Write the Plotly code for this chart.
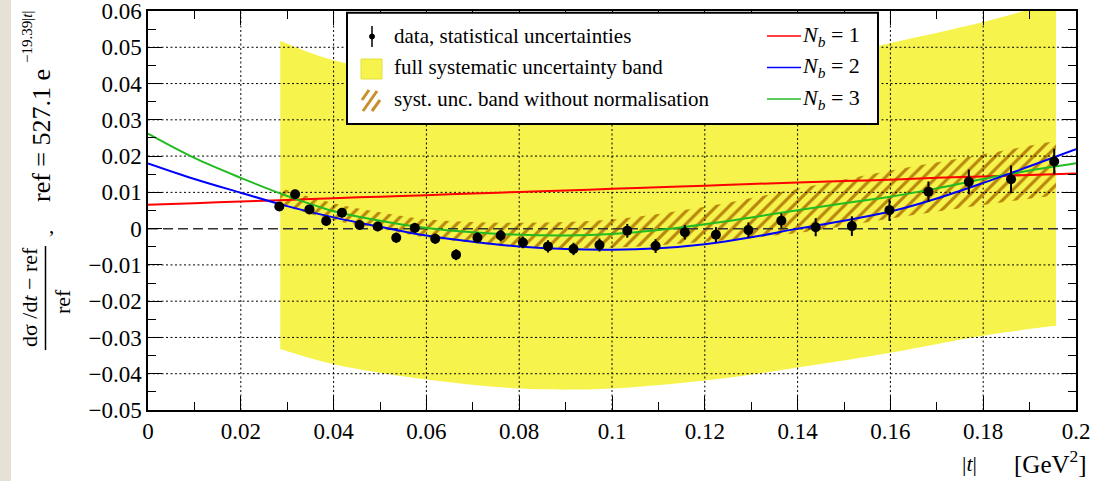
import plotly.graph_objects as go

# ---------------- measured ratio points ----------------
t_data = [0.0283, 0.0317, 0.0348, 0.0384, 0.0418, 0.0456, 0.0495, 0.0535, 0.0575, 0.0619,
          0.0664, 0.0710, 0.0760, 0.0808, 0.0862, 0.0917, 0.0973, 0.1033, 0.1094, 0.1157,
          0.1224, 0.1294, 0.1365, 0.1439, 0.1517, 0.1598, 0.1682, 0.1769, 0.1860, 0.1953]
ratio_data = [0.0061, 0.0095, 0.0053, 0.0021, 0.0044, 0.0010, 0.0006, -0.0025, 0.0002, -0.0028,
              -0.0072, -0.0025, -0.0019, -0.0038, -0.0049, -0.0056, -0.0045, -0.0006, -0.0048, -0.0010,
              -0.0017, -0.0004, 0.0022, 0.0004, 0.0007, 0.0051, 0.0102, 0.0129, 0.0136, 0.0185]
stat_err = [0.0012, 0.0012, 0.0012, 0.0012, 0.0013, 0.0013, 0.0013, 0.0014, 0.0014, 0.0014,
            0.0015, 0.0015, 0.0016, 0.0016, 0.0017, 0.0017, 0.0018, 0.0019, 0.0019, 0.0020,
            0.0021, 0.0021, 0.0020, 0.0025, 0.0027, 0.0030, 0.0028, 0.0034, 0.0038, 0.0035]

# ---------------- fitted curves, sampled along |t| ----------------
t_fit = [0.00, 0.01, 0.02, 0.03, 0.04, 0.05, 0.06, 0.07, 0.08, 0.09, 0.10,
         0.11, 0.12, 0.13, 0.14, 0.15, 0.16, 0.17, 0.18, 0.19, 0.20]
fit_nb1 = [0.0066, 0.0070, 0.0075, 0.0079, 0.0084, 0.0088, 0.0092, 0.0097, 0.0101, 0.0105, 0.0110,
           0.0114, 0.0118, 0.0123, 0.0127, 0.0131, 0.0135, 0.0140, 0.0144, 0.0148, 0.0152]
fit_nb2 = [0.0180, 0.0137, 0.0099, 0.0062, 0.0031, 0.0005, -0.0019, -0.0036, -0.0049, -0.0056, -0.0058,
           -0.0054, -0.0043, -0.0024, 0.0000, 0.0022, 0.0047, 0.0083, 0.0126, 0.0172, 0.0219]
fit_nb3 = [0.0262, 0.0195, 0.0140, 0.0090, 0.0048, 0.0022, 0.0002, -0.0010, -0.0017, -0.0019, -0.0015,
           -0.0004, 0.0012, 0.0031, 0.0051, 0.0070, 0.0088, 0.0111, 0.0137, 0.0160, 0.0180]

# ---------------- systematic uncertainty bands ----------------
t_sys = [0.0285, 0.04, 0.06, 0.08, 0.09, 0.10, 0.12, 0.14, 0.16, 0.18, 0.1957]
sys_full_lo = [-0.0332, -0.0374, -0.0416, -0.0441, -0.0444, -0.0441, -0.0419, -0.0383, -0.0342, -0.0295, -0.0268]
sys_full_hi = [0.0518, 0.0464, 0.0420, 0.0400, 0.0400, 0.0403, 0.0422, 0.0455, 0.0512, 0.0570, 0.0625]

t_sysn = [0.0285, 0.04, 0.05, 0.06, 0.08, 0.10, 0.12, 0.14, 0.16, 0.18, 0.1957]
sys_nonorm_lo = [0.0066, 0.0023, 0.0000, -0.0024, -0.0050, -0.0052, -0.0036, -0.0012, 0.0028, 0.0065, 0.0092]
sys_nonorm_hi = [0.0112, 0.0070, 0.0045, 0.0026, 0.0016, 0.0025, 0.0060, 0.0110, 0.0160, 0.0205, 0.0242]

x_grid = [0.02, 0.04, 0.06, 0.08, 0.10, 0.12, 0.14, 0.16, 0.18]
y_grid = [-0.04, -0.03, -0.02, -0.01, 0.01, 0.02, 0.03, 0.04, 0.05]

# ---------------- page geometry ----------------
W_PX, H_PX = 1095, 481
M_L, M_R, M_T, M_B = 148, 19, 11, 71
PW, PH = W_PX - M_L - M_R, H_PX - M_T - M_B

def px(x):
    return (x - M_L) / PW

def py(y):
    return (H_PX - M_B - y) / PH

SERIF = "Liberation Serif, Times New Roman, serif"
YELLOW = "#f6f44c"
HATCH = "#b8860b"

fig = go.Figure()

# full systematic band (yellow)
fig.add_trace(go.Scatter(x=t_sys, y=sys_full_lo, mode="lines", line=dict(width=0, shape="spline"),
                         showlegend=False, hoverinfo="skip"))
fig.add_trace(go.Scatter(x=t_sys, y=sys_full_hi, mode="lines", line=dict(width=0, shape="spline"),
                         fill="tonexty", fillcolor=YELLOW, showlegend=False, hoverinfo="skip"))

# systematic band without normalisation (hatched)
fig.add_trace(go.Scatter(x=t_sysn, y=sys_nonorm_lo, mode="lines", line=dict(width=0, shape="spline"),
                         showlegend=False, hoverinfo="skip"))
fig.add_trace(go.Scatter(x=t_sysn, y=sys_nonorm_hi, mode="lines", line=dict(width=0, shape="spline"),
                         fill="tonexty", fillcolor="rgba(0,0,0,0)",
                         fillpattern=dict(shape="/", fgcolor=HATCH, bgcolor="rgba(0,0,0,0)",
                                          size=9, solidity=0.35, fillmode="replace"),
                         showlegend=False, hoverinfo="skip"))

# dotted grid drawn over the bands
gx, gy = [], []
for v in x_grid:
    gx += [v, v, None]
    gy += [-0.05, 0.06, None]
for v in y_grid:
    gx += [0, 0.2, None]
    gy += [v, v, None]
fig.add_trace(go.Scatter(x=gx, y=gy, mode="lines", line=dict(color="black", width=1, dash="2px,2.5px"),
                         showlegend=False, hoverinfo="skip"))
# dashed zero line
fig.add_trace(go.Scatter(x=[0, 0.2], y=[0, 0], mode="lines",
                         line=dict(color="#333333", width=1.5, dash="10px,5px"),
                         showlegend=False, hoverinfo="skip"))

# fitted curves
for vals, col in [(fit_nb1, "#ff0000"), (fit_nb3, "#22bb22"), (fit_nb2, "#0000ff")]:
    fig.add_trace(go.Scatter(x=t_fit, y=vals, mode="lines", line=dict(color=col, width=2, shape="spline"),
                             showlegend=False, hoverinfo="skip"))

# data with statistical errors
fig.add_trace(go.Scatter(x=t_data, y=ratio_data, mode="markers",
                         marker=dict(color="black", size=10, symbol="circle"),
                         error_y=dict(type="data", array=stat_err, color="black", thickness=2, width=0),
                         showlegend=False))

shapes = []
annotations = []

def note(text, x, y, size, xanchor="center", yanchor="middle", angle=0):
    annotations.append(dict(text=text, xref="paper", yref="paper", x=px(x), y=py(y), xanchor=xanchor,
                            yanchor=yanchor, textangle=angle, showarrow=False,
                            font=dict(family=SERIF, size=size, color="black")))

# beige strip at left edge of page
shapes.append(dict(type="rect", xref="paper", yref="paper", x0=px(0), x1=px(11), y0=py(H_PX), y1=py(0),
                   fillcolor="#e6e0d6", line=dict(width=0), layer="below"))

# legend box
shapes.append(dict(type="rect", xref="paper", yref="paper", x0=px(347), x1=px(878), y0=py(124), y1=py(12.7),
                   fillcolor="white", line=dict(color="black", width=2), layer="above"))
# legend icons
shapes.append(dict(type="line", xref="paper", yref="paper", x0=px(372), x1=px(372), y0=py(47), y1=py(26),
                   line=dict(color="black", width=1.5), layer="above"))
shapes.append(dict(type="circle", xref="paper", yref="paper", x0=px(369.5), x1=px(374.5), y0=py(39), y1=py(34),
                   fillcolor="black", line=dict(color="black", width=1), layer="above"))
shapes.append(dict(type="rect", xref="paper", yref="paper", x0=px(361), x1=px(382), y0=py(79), y1=py(59),
                   fillcolor=YELLOW, line=dict(color="#e2e040", width=1), layer="above"))
for (xa, ya, xb, yb) in [(362, 100, 369, 90), (363, 111, 377, 91), (372, 111, 380, 100)]:
    shapes.append(dict(type="line", xref="paper", yref="paper", x0=px(xa), x1=px(xb), y0=py(ya), y1=py(yb),
                       line=dict(color="#c8902a", width=3), layer="above"))
legend_left = ["data, statistical uncertainties", "full systematic uncertainty band",
               "syst. unc. band without normalisation"]
legend_right = ["<i>N</i><sub><i>b</i></sub> = 1", "<i>N</i><sub><i>b</i></sub> = 2",
                "<i>N</i><sub><i>b</i></sub> = 3"]
row_y = [36, 67.5, 99]
for txt, yy in zip(legend_left, row_y):
    note(txt, 392, yy, 21, xanchor="left")
for txt, yy, col in zip(legend_right, row_y, ["#ff0000", "#0000ff", "#22bb22"]):
    shapes.append(dict(type="line", xref="paper", yref="paper", x0=px(767), x1=px(801), y0=py(yy), y1=py(yy),
                       line=dict(color=col, width=1.5), layer="above"))
    note(txt, 800, yy, 22, xanchor="left")

# y-axis title built from pieces
note("ref = 527.1 e", 41, 136, 26, angle=-90)
note("\u221219.39|<i>t</i>|", 27, 37, 15, angle=-90)
note(",", 51, 226, 21)
note("d\u03c3 /d<i>t</i> \u2212 ref", 29, 297, 22, angle=-90)
shapes.append(dict(type="line", xref="paper", yref="paper", x0=px(45.5), x1=px(45.5), y0=py(350), y1=py(246),
                   line=dict(color="black", width=1.5)))
note("ref", 62, 302, 22, angle=-90)

# x-axis title
note("|<i>t</i>|", 969, 463, 22)
note("[GeV<sup>2</sup>]", 1089, 462, 25, xanchor="right")

axis_common = dict(showline=True, linecolor="black", linewidth=1.5, mirror="ticks", ticks="inside",
                   ticklen=14, tickwidth=1.2, tickcolor="black", showgrid=False, zeroline=False,
                   automargin=False, ticklabeloverflow="allow",
                   tickfont=dict(family=SERIF, size=23, color="black"))

fig.update_layout(
    width=W_PX, height=H_PX,
    margin=dict(l=M_L, r=M_R, t=M_T, b=M_B, autoexpand=False),
    paper_bgcolor="white", plot_bgcolor="white",
    showlegend=False,
    xaxis=dict(range=[0, 0.2], tick0=0, dtick=0.02,
               minor=dict(ticks="inside", ticklen=8, dtick=0.01, tickcolor="black", showgrid=False),
               **axis_common),
    yaxis=dict(range=[-0.05, 0.06], tick0=0, dtick=0.01,
               minor=dict(ticks="inside", ticklen=8, dtick=0.005, tickcolor="black", showgrid=False),
               **axis_common),
    shapes=shapes,
    annotations=annotations,
)

fig.write_html("out.html")
